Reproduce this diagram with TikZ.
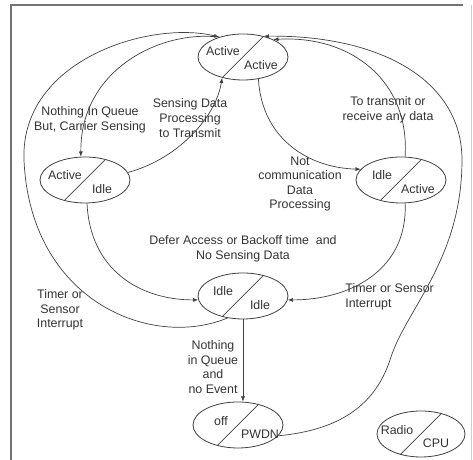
\documentclass[tikz,border=0pt]{standalone}
\usepackage{fontspec}
\setmainfont{Liberation Sans}
\usetikzlibrary{arrows.meta,shapes.geometric}
\begin{document}
\begin{tikzpicture}[x=0.5pt, y=0.5pt,
  state/.style={draw=black!75, ellipse, minimum width=45pt, minimum height=23pt, inner sep=0pt},
  lbl/.style={font=\fontsize{6.2}{7.3}\selectfont, text=black!80, align=center, inner sep=0pt},
  link/.style={draw=black!75, line width=0.35pt, -{Latex[length=2.6pt,width=2pt]}}]
\useasboundingbox (0,0) rectangle (473,460);
\draw[black!55, line width=0.7pt] (11,0) -- (11,455) -- (463,455);
\draw[black!20, line width=0.4pt] (471,0) -- (471,455);
\node[state] (AA) at (243,403) {};
\node[state] (AI) at (85,280) {};
\node[state] (IA) at (401,280) {};
\node[state] (II) at (243,164) {};
\node[state] (PW) at (238,35) {};
\node[state, minimum width=44pt] (RC) at (421,26) {};
\foreach \s in {AA,AI,IA,II,PW,RC}
  \draw[black!75, line width=0.35pt] (\s.45) -- (\s.225);
\node[lbl] (AAa) at ([shift={(-20,6)}]AA.center) {Active};
\node[lbl] (AAb) at ([shift={(18,-8)}]AA.center) {Active};
\node[lbl] (AIa) at ([shift={(-20,5)}]AI.center) {Active};
\node[lbl] (AIb) at ([shift={(17,-9)}]AI.center) {Idle};
\node[lbl] (IAa) at ([shift={(-19,5)}]IA.center) {Idle};
\node[lbl] (IAb) at ([shift={(17,-9)}]IA.center) {Active};
\node[lbl] (IIa) at ([shift={(-20,5)}]II.center) {Idle};
\node[lbl] (IIb) at ([shift={(17,-9)}]II.center) {Idle};
\node[lbl] (PWa) at ([shift={(-17,4)}]PW.center) {off};
\node[lbl] (PWb) at ([shift={(22,-9)}]PW.center) {PWDN};
\node[lbl] (RCa) at ([shift={(-24,4)}]RC.center) {Radio};
\node[lbl] (RCb) at ([shift={(15,-9)}]RC.center) {CPU};
\node[lbl] (q1) at (90,340) {Nothing In Queue\\But, Carrier Sensing};
\node[lbl] (s1) at (190,342) {Sensing Data\\Processing\\to Transmit};
\node[lbl] (t1) at (388,350) {To transmit or\\receive any data};
\node[lbl] (n1) at (300,276) {Not\\communication\\Data\\Processing};
\node[lbl] (d1) at (243,211) {Defer Access or Backoff time\ \ and\\No Sensing Data};
\node[lbl] (e1) at (213,93) {Nothing\\in Queue\\and\\no Event};
\node[lbl] (l1) at (60,150) {Timer or\\Sensor\\Interrupt};
\node[lbl, align=left, anchor=west] (r1) at (345,163) {Timer or Sensor\\Interrupt};
\draw[link] (AA.140) .. controls (160,430) and (80,390) .. (AI.100);
\draw[link] (II.235) .. controls (150,110) and (30,160) .. (24,300) .. controls (20,400) and (150,440) .. (AA.140);
\draw[link] (AI.10) .. controls (175,300) and (215,340) .. (AA.225);
\draw[link] (AA.305) .. controls (262,320) and (310,292) .. (IA.165);
\draw[link] (IA.80) .. controls (410,380) and (350,425) .. (AA.30);
\draw[link] (PW.345) .. controls (340,30) and (375,55) .. (390,100) .. controls (405,150) and (462,200) .. (462,300) .. controls (462,380) and (380,425) .. (AA.45);
\draw[link] (AI.275) .. controls (90,190) and (140,160) .. (II.185);
\draw[link] (IA.280) .. controls (408,190) and (350,160) .. (II.355);
\draw[link] (II.south) -- (II.south |- PW.north);
\end{tikzpicture}
\end{document}
